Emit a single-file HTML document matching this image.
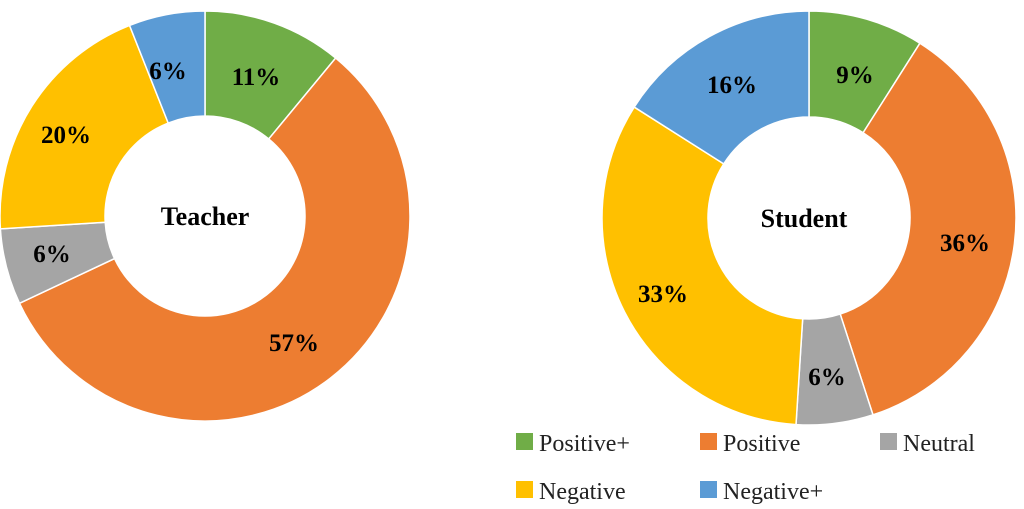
<!DOCTYPE html>
<html><head><meta charset="utf-8"><style>
html,body{margin:0;padding:0;background:#fff;}
svg{display:block;}
text{font-family:"Liberation Serif",serif;}
</style></head><body>
<svg id="s" width="1024" height="509" viewBox="0 0 1024 509" xmlns="http://www.w3.org/2000/svg">
<g id="t"></g><g id="u"></g>
<g font-weight="bold" font-size="25" fill="#000" text-anchor="middle">
<text x="256" y="85">11%</text>
<text x="168" y="79">6%</text>
<text x="66" y="143">20%</text>
<text x="52" y="262">6%</text>
<text x="294" y="351">57%</text>
<text x="205" y="225" font-size="26">Teacher</text>
<text x="855" y="83">9%</text>
<text x="732" y="93">16%</text>
<text x="965" y="251">36%</text>
<text x="663" y="302">33%</text>
<text x="827" y="385">6%</text>
<text x="804" y="227" font-size="26">Student</text>
</g>
<g font-size="24" fill="#222">
<rect x="516" y="433" width="17" height="17" fill="#70AD47"/><text x="539" y="451">Positive+</text>
<rect x="700" y="433" width="17" height="17" fill="#ED7D31"/><text x="723" y="451">Positive</text>
<rect x="880" y="433" width="17" height="17" fill="#A5A5A5"/><text x="903" y="451">Neutral</text>
<rect x="516" y="481" width="17" height="17" fill="#FFC000"/><text x="539" y="499">Negative</text>
<rect x="700" y="481" width="17" height="17" fill="#5B9BD5"/><text x="723" y="499">Negative+</text>
</g>
</svg>
<script>
var C=["#70AD47","#ED7D31","#A5A5A5","#FFC000","#5B9BD5"];
function donut(id,cx,cy,R,r,vals){
 var g=document.getElementById(id),a=0,h="";
 vals.forEach(function(v,i){
  var a0=a*2*Math.PI/100-Math.PI/2;a+=v;var a1=a*2*Math.PI/100-Math.PI/2;
  var lg=(v>50)?1:0;
  function p(rr,t){return (cx+rr*Math.cos(t)).toFixed(2)+","+(cy+rr*Math.sin(t)).toFixed(2);}
  h+='<path d="M'+p(R,a0)+' A'+R+','+R+' 0 '+lg+' 1 '+p(R,a1)+' L'+p(r,a1)+' A'+r+','+r+' 0 '+lg+' 0 '+p(r,a0)+' Z" fill="'+C[i]+'" stroke="#fff" stroke-width="1.5"/>';
 });
 g.innerHTML=h;
}
donut("t",205,216,205,100,[11,57,6,20,6]);
donut("u",809,218,207,101,[9,36,6,33,16]);
</script>
</body></html>
